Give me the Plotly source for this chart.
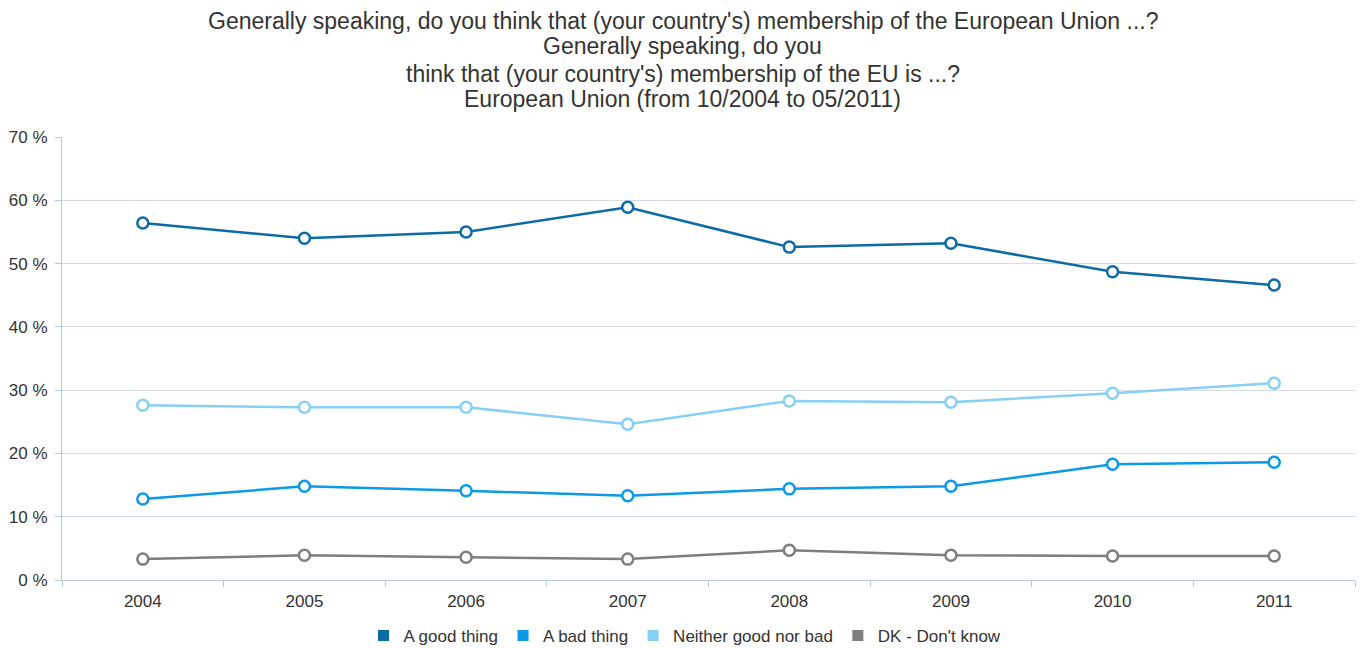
import plotly.graph_objects as go

years = ["2004", "2005", "2006", "2007", "2008", "2009", "2010", "2011"]
good = [56.4, 54.0, 55.0, 58.9, 52.6, 53.2, 48.7, 46.6]
bad = [12.8, 14.8, 14.1, 13.3, 14.4, 14.8, 18.3, 18.6]
neither = [27.6, 27.3, 27.3, 24.6, 28.3, 28.1, 29.5, 31.1]
dk = [3.3, 3.9, 3.6, 3.3, 4.7, 3.9, 3.8, 3.8]

series_names = ["A good thing", "A bad thing", "Neither good nor bad", "DK - Don't know"]
series_values = [good, bad, neither, dk]
series_colors = ["#0c6aa6", "#0a9ae8", "#86cff5", "#7e7e7e"]

title_lines = [
    "Generally speaking, do you think that (your country's) membership of the European Union ...?",
    "Generally speaking, do you",
    "think that (your country's) membership of the EU is ...?",
    "European Union (from 10/2004 to 05/2011)",
]

W, H = 1365, 648
ml, mr, mt, mb = 62, 10, 137, 68
ph = H - mt - mb
pw = W - ml - mr
FONT = "Liberation Sans, Arial, Helvetica, sans-serif"

fig = go.Figure()
for name, vals, col in zip(series_names, series_values, series_colors):
    fig.add_trace(go.Scatter(
        x=years, y=vals, mode="lines+markers", name=name, showlegend=False,
        line=dict(color=col, width=2.5),
        marker=dict(symbol="circle", size=11, color="white", line=dict(color=col, width=2.5)),
    ))
for name, col in zip(series_names, series_colors):
    fig.add_trace(go.Scatter(
        x=[None], y=[None], mode="markers", name=name, showlegend=True,
        marker=dict(symbol="square", size=11, color=col),
    ))

line_px = [21, 46, 74, 99]
for txt, py in zip(title_lines, line_px):
    fig.add_annotation(
        text=txt, xref="paper", yref="paper", x=(W / 2 - ml) / pw,
        y=(H - mb - py) / ph, xanchor="center", yanchor="middle", showarrow=False,
        font=dict(family=FONT, size=23, color="#333333"),
    )

fig.update_layout(
    width=W, height=H,
    margin=dict(l=ml, r=mr, t=mt, b=mb, autoexpand=False),
    paper_bgcolor="white", plot_bgcolor="white",
    font=dict(family=FONT, color="#333333"),
    showlegend=True,
    legend=dict(orientation="h", x=(685 - ml) / pw, xanchor="center", y=(H - mb - 636) / ph, yanchor="middle",
                font=dict(size=17, color="#333333"), itemwidth=30, tracegroupgap=0),
    xaxis=dict(
        type="category", range=[-0.5, 7.5], tickson="boundaries", ticks="outside", ticklen=6,
        tickcolor="#b8c8d6", showline=True, linecolor="#b8c8d6", linewidth=1, showgrid=False,
        tickfont=dict(size=17, color="#333333"), automargin=False, zeroline=False,
        ticklabelstandoff=6,
    ),
    yaxis=dict(
        range=[0, 70], dtick=10, ticksuffix=" %", ticks="outside", ticklen=6, tickcolor="#b8c8d6",
        showline=True, linecolor="#b8c8d6", linewidth=1, showgrid=True, gridcolor="#d3dde5",
        gridwidth=1, zeroline=False, tickfont=dict(size=17, color="#333333"), automargin=False,
        ticklabelstandoff=4,
    ),
)

fig.write_html("out.html", config={"displayModeBar": False},
               post_script="document.body.style.margin='0';document.body.style.overflow='hidden';")
